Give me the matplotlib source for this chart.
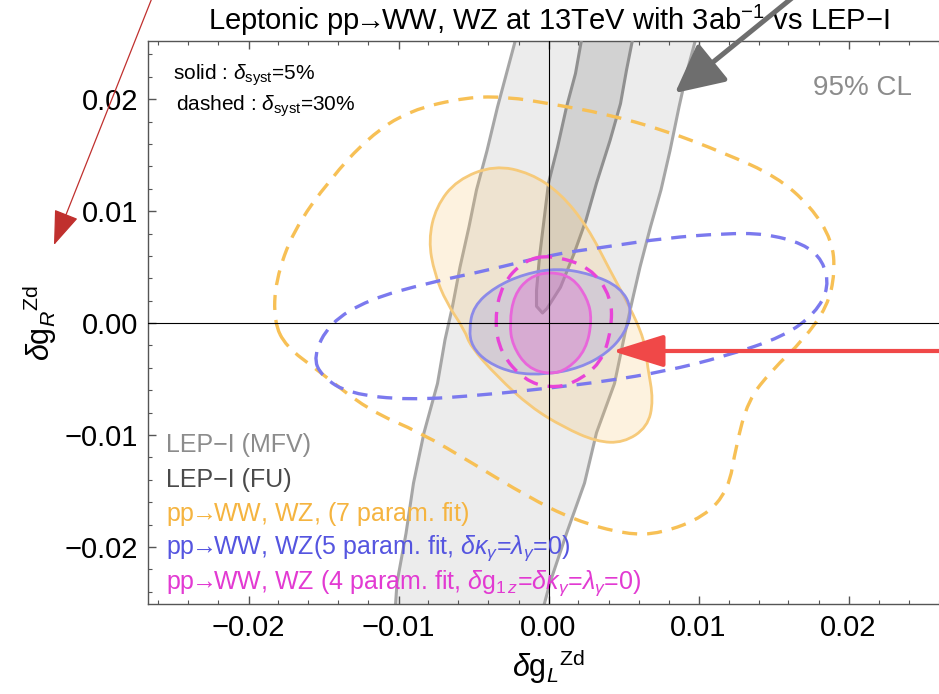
import numpy as np
import matplotlib
matplotlib.use("Agg")
import matplotlib.pyplot as plt
from matplotlib.path import Path
from matplotlib.patches import PathPatch, FancyArrowPatch
from matplotlib.ticker import MultipleLocator, FuncFormatter

plt.rcParams['font.family'] = ['Liberation Sans', 'DejaVu Sans']
plt.rcParams['mathtext.fontset'] = 'custom'
plt.rcParams['mathtext.rm'] = 'Liberation Sans'
plt.rcParams['mathtext.it'] = 'Liberation Sans:italic'
plt.rcParams['mathtext.bf'] = 'Liberation Sans:bold'
plt.rcParams['mathtext.fallback'] = 'stixsans'

# LEP-I (MFV) band edges, read top -> bottom
mfv_left_x = [-0.0022, -0.0028, -0.0034, -0.0041, -0.0048, -0.0053, -0.0059, -0.0064,
              -0.0069, -0.0074, -0.0083, -0.0090, -0.0095, -0.0101, -0.0102]
mfv_left_y = [0.0253, 0.0223, 0.0193, 0.0154, 0.0119, 0.0086, 0.0050, 0.0015,
              -0.0015, -0.0054, -0.0098, -0.0143, -0.0188, -0.0232, -0.0252]
mfv_right_x = [0.0098, 0.0092, 0.0087, 0.0081, 0.0075, 0.0068, 0.0061, 0.0056,
               0.0051, 0.0044, 0.0032, 0.0024, 0.0012, 0.0001, -0.0003]
mfv_right_y = [0.0253, 0.0223, 0.0193, 0.0154, 0.0119, 0.0086, 0.0050, 0.0021,
               -0.0009, -0.0054, -0.0098, -0.0143, -0.0188, -0.0232, -0.0252]

# LEP-I (FU) band, open at the top
fu_x = [0.0022, 0.0018, 0.0012, 0.0006, 0.0000, -0.0003, -0.0006, -0.0008, -0.0008, -0.0004,
        -0.0001, 0.0008, 0.0017, 0.0025, 0.0032, 0.0041, 0.0048, 0.0052, 0.0056]
fu_y = [0.0253, 0.0223, 0.0193, 0.0157, 0.0125, 0.0092, 0.0059, 0.0029, 0.0015, 0.0009,
        0.0013, 0.0032, 0.0062, 0.0092, 0.0125, 0.0163, 0.0196, 0.0226, 0.0253]

# 7 param fit, 5% syst (solid)
p7_solid_x = [-0.0036, -0.0012, 0.0008, 0.0026, 0.0041, 0.0054, 0.0064, 0.0066, 0.0070, 0.0066,
              0.0050, 0.0032, 0.0010, -0.0012, -0.0034, -0.0052, -0.0056, -0.0068, -0.0076,
              -0.0080, -0.0075, -0.0061]
p7_solid_y = [0.0141, 0.0134, 0.0116, 0.0086, 0.0047, 0.0015, -0.0015, -0.0039, -0.0069, -0.0093,
              -0.0107, -0.0106, -0.0093, -0.0075, -0.0048, -0.0021, -0.0006, 0.0018, 0.0044,
              0.0074, 0.0104, 0.0128]

# 7 param fit, 30% syst (dashed)
p7_dash_x = [-0.0183, -0.0182, -0.0170, -0.0146, -0.0120, -0.0093, -0.0054, -0.0027, 0.0001,
             0.0038, 0.0078, 0.0117, 0.0152, 0.0175, 0.0189, 0.0191, 0.0186, 0.0170, 0.0149,
             0.0133, 0.0125, 0.0120, 0.0104, 0.0075, 0.0052, 0.0017, -0.0014, -0.0051, -0.0085,
             -0.0120, -0.0154, -0.0175]
p7_dash_y = [0.0001, 0.0038, 0.0083, 0.0128, 0.0166, 0.0190, 0.0202, 0.0202, 0.0196,
             0.0187, 0.0172, 0.0152, 0.0131, 0.0104, 0.0074, 0.0045, 0.0015, -0.0015, -0.0042,
             -0.0069, -0.0110, -0.0149, -0.0173, -0.0188, -0.0189, -0.0176, -0.0155, -0.0125,
             -0.0098, -0.0078, -0.0042, -0.0021]

# 5 param fit, 5% (solid)
p5_solid_x = [-0.0053, -0.0050, -0.0036, -0.0016, 0.0006, 0.0028, 0.0048, 0.0056, 0.0051,
              0.0039, 0.0021, -0.0001, -0.0023, -0.0041, -0.0051]
p5_solid_y = [-0.0006, 0.0015, 0.0032, 0.0044, 0.0049, 0.0044, 0.0032, 0.0012, -0.0009,
              -0.0027, -0.0040, -0.0046, -0.0045, -0.0035, -0.0021]

# 5 param fit, 30% (dashed)
p5_dash_x = [-0.0157, -0.0146, -0.0120, -0.0080, -0.0041, 0.0001, 0.0038, 0.0078, 0.0117,
             0.0144, 0.0170, 0.0183, 0.0187, 0.0178, 0.0157, 0.0117, 0.0078, 0.0038, 0.0001,
             -0.0041, -0.0093, -0.0133, -0.0151]
p5_dash_y = [-0.0030, 0.0000, 0.0021, 0.0036, 0.0047, 0.0061, 0.0068, 0.0076, 0.0080,
             0.0080, 0.0071, 0.0056, 0.0032, 0.0009, -0.0012, -0.0030, -0.0043, -0.0052, -0.0058,
             -0.0064, -0.0069, -0.0063, -0.0048]

# 4 param fit, 5% (solid)
p4_solid_x = [0.0001, 0.0016, 0.0026, 0.0029, 0.0025, 0.0013, 0.0001, -0.0014, -0.0024,
              -0.0026, -0.0023, -0.0013]
p4_solid_y = [0.0046, 0.0041, 0.0022, 0.0003, -0.0024, -0.0041, -0.0046, -0.0040, -0.0020,
              0.0000, 0.0025, 0.0041]

# 4 param fit, 30% (dashed)
p4_dash_x = [0.0001, 0.0028, 0.0042, 0.0042, 0.0035, 0.0017, 0.0001, -0.0016, -0.0032,
             -0.0036, -0.0031, -0.0016]
p4_dash_y = [0.0061, 0.0050, 0.0023, -0.0006, -0.0036, -0.0054, -0.0058, -0.0051, -0.0027,
             0.0003, 0.0035, 0.0056]

arrow = r'$\!\!\rightarrow\!\!$'
legend_labels = ['LEP−I (MFV)', 'LEP−I (FU)', 'pp' + arrow + 'WW, WZ, (7 param. fit)',
                 'pp' + arrow + r'WW, WZ(5 param. fit, $\delta\kappa_\gamma$=$\lambda_\gamma$=0)',
                 'pp' + arrow + r'WW, WZ (4 param. fit, $\delta$g$_{1\,z}$=$\delta\kappa_\gamma$=$\lambda_\gamma$=0)']
legend_colors = ['#8c8c8c', '#4a4a4a', '#f5b440', '#5555e0', '#e23ad2']

W, H = 939, 694


def smooth_closed(xs, ys):
    pts = np.column_stack([xs, ys])
    mids = (pts + np.roll(pts, -1, axis=0)) / 2
    verts = [mids[-1]]
    codes = [Path.MOVETO]
    for i in range(len(pts)):
        verts += [pts[i], mids[i]]
        codes += [Path.CURVE3, Path.CURVE3]
    return Path(verts, codes)


def fp(x, y):
    return x / W, 1 - y / H


fig = plt.figure(figsize=(W / 100, H / 100), dpi=100)
ax = fig.add_axes([148 / W, 90 / H, 801 / W, 563 / H])
ax.set_xlim(-0.0267, 0.0267)
ax.set_ylim(-0.0251, 0.0252)

# LEP-I bands
band_x = mfv_left_x + mfv_right_x[::-1]
band_y = mfv_left_y + mfv_right_y[::-1]
ax.fill(band_x, band_y, color='#ececec', lw=0, zorder=1)
ax.plot(mfv_left_x, mfv_left_y, color='#a6a6a6', lw=2.2, zorder=2)
ax.plot(mfv_right_x, mfv_right_y, color='#a6a6a6', lw=2.2, zorder=2)
ax.fill(fu_x, fu_y, color='#d2d2d2', lw=0, zorder=2)
ax.plot(fu_x, fu_y, color='#909090', lw=2.2, zorder=3)

# solid (5%) regions
ax.add_patch(PathPatch(smooth_closed(p7_solid_x, p7_solid_y), facecolor='#f8c060', alpha=0.2,
                       lw=0, zorder=4))
ax.add_patch(PathPatch(smooth_closed(p7_solid_x, p7_solid_y), facecolor='none',
                       edgecolor='#f6ca7a', lw=2, zorder=5))
ax.add_patch(PathPatch(smooth_closed(p5_solid_x, p5_solid_y), facecolor='#8a88e0', alpha=0.25,
                       lw=0, zorder=6))
ax.add_patch(PathPatch(smooth_closed(p5_solid_x, p5_solid_y), facecolor='none',
                       edgecolor='#8c8ae8', lw=2, zorder=7))
ax.add_patch(PathPatch(smooth_closed(p4_solid_x, p4_solid_y), facecolor='#e060d0', alpha=0.3,
                       lw=0, zorder=8))
ax.add_patch(PathPatch(smooth_closed(p4_solid_x, p4_solid_y), facecolor='none',
                       edgecolor='#e866da', lw=2, zorder=9))

# dashed (30%) contours
dash = (0, (4.5, 3))
ax.add_patch(PathPatch(smooth_closed(p7_dash_x, p7_dash_y), facecolor='none',
                       edgecolor='#f7c055', lw=2.4, ls=dash, zorder=10))
ax.add_patch(PathPatch(smooth_closed(p5_dash_x, p5_dash_y), facecolor='none',
                       edgecolor='#7b79ee', lw=2.4, ls=dash, zorder=10))
ax.add_patch(PathPatch(smooth_closed(p4_dash_x, p4_dash_y), facecolor='none',
                       edgecolor='#e844d8', lw=2.4, ls=dash, zorder=10))

ax.axhline(0, color='black', lw=0.8, zorder=11)
ax.axvline(0, color='black', lw=0.8, zorder=11)

# ticks and frame
ax.xaxis.set_major_locator(MultipleLocator(0.01))
ax.yaxis.set_major_locator(MultipleLocator(0.01))
ax.xaxis.set_minor_locator(MultipleLocator(0.002))
ax.yaxis.set_minor_locator(MultipleLocator(0.002))
fmt = FuncFormatter(lambda v, p: ('%.2f' % (0.0 if abs(v) < 1e-9 else v)).replace('-', '−'))
ax.xaxis.set_major_formatter(fmt)
ax.yaxis.set_major_formatter(fmt)
ax.tick_params(which='both', direction='in', top=True, right=True, color='#555555')
ax.tick_params(which='major', length=6, width=1, labelsize=21, pad=7)
ax.tick_params(which='minor', length=3, width=0.8)
for s in ax.spines.values():
    s.set_color('#555555')
    s.set_linewidth(1)

ax.set_xlabel(r'$\delta\mathrm{g}_{L}{}^{\mathrm{Zd}}$', fontsize=22, labelpad=4)
ax.set_ylabel(r'$\delta\mathrm{g}_{R}{}^{\mathrm{Zd}}$', fontsize=22, labelpad=4)
ax.set_title('Leptonic pp' + arrow + 'WW, WZ at 13TeV with 3ab$^{-1}$ vs LEP−I',
             fontsize=21, pad=8)

# texts inside the frame
fig.text(*fp(173, 75), r'solid : $\delta_{\mathrm{syst}}$=5%', fontsize=15, va='center')
fig.text(*fp(176, 106), r'dashed : $\delta_{\mathrm{syst}}$=30%', fontsize=15, va='center')
fig.text(*fp(862, 88), '95% CL', fontsize=20, color='#8c8c8c', ha='center', va='center')
for i, (lab, col) in enumerate(zip(legend_labels, legend_colors)):
    fig.text(*fp(166, 445 + 34.5 * i), lab, fontsize=18, color=col, va='center')

# annotation arrows
fig.add_artist(FancyArrowPatch(fp(152, -2), fp(54, 245), transform=fig.transFigure,
                               arrowstyle='-|>,head_length=22,head_width=8', color='#c0302e',
                               lw=0.9, shrinkA=0, shrinkB=0, mutation_scale=1))
fig.add_artist(FancyArrowPatch(fp(792, -2), fp(675, 93), transform=fig.transFigure,
                               arrowstyle='-|>,head_length=30,head_width=15', color='#6e6e6e',
                               lw=3.6, shrinkA=0, shrinkB=0, mutation_scale=1))
fig.add_artist(FancyArrowPatch(fp(945, 351), fp(612, 351), transform=fig.transFigure,
                               arrowstyle='-|>,head_length=32,head_width=10', color='#f04848',
                               lw=3, shrinkA=0, shrinkB=0, mutation_scale=1))

fig.savefig('out.png', dpi=100)
